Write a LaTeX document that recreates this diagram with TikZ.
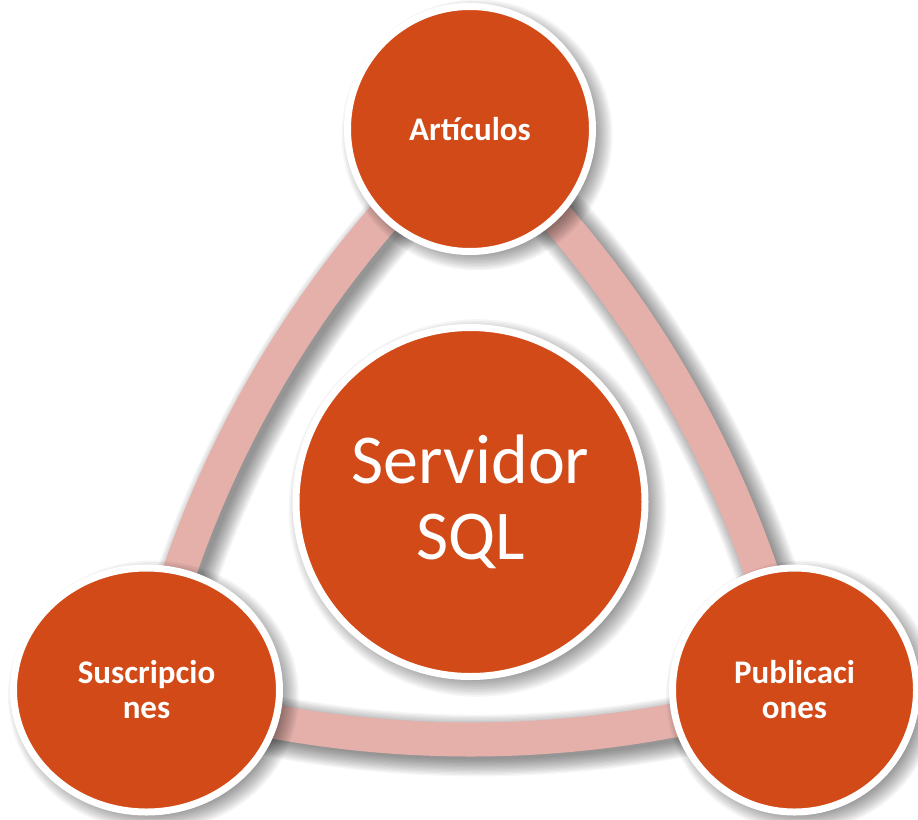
\documentclass[tikz,border=0pt]{standalone}
\usepackage{fontspec}
\setmainfont{Carlito}
\usetikzlibrary{shapes.geometric}
\definecolor{nodeorange}{RGB}{210,74,24}
\definecolor{bandpink}{RGB}{229,176,170}
\pgfdeclarelayer{bg}
\pgfdeclarelayer{bshadow}
\pgfdeclarelayer{bands}
\pgfdeclarelayer{cshadow}
\pgfsetlayers{bg,bshadow,bands,cshadow,main}
\begin{document}
\begin{tikzpicture}[x=1pt,y=-1pt,
  bubble/.style={circle, fill=nodeorange, draw=white, line width=7pt, inner sep=0pt, text=white, align=center},
  smalltext/.style={font=\fontsize{33}{35}\selectfont\bfseries},
  bigtext/.style={font=\fontsize{70}{76}\selectfont},
  band/.style={draw=bandpink, line width=34pt},
  softshade/.style={black, opacity=0.035},
]
\begin{pgfonlayer}{bg}
\fill[white] (0,0) rectangle (918,819);
\end{pgfonlayer}
\useasboundingbox (0,0) rectangle (918,819);

% nodes
\node[bubble, smalltext, minimum size=245pt] (art) at (470,129) {Artículos};
\node[bubble, bigtext, minimum size=349pt] (srv) at (470.5,502) {Servidor\\SQL};
\node[bubble, smalltext, ellipse, minimum width=266pt, minimum height=244pt] (sus) at (146.5,690) {Suscripcio\\nes};
\node[bubble, smalltext, minimum size=244pt] (pub) at (794.5,690) {Publicaci\\ones};

% band shadows
\begin{pgfonlayer}{bshadow}
\foreach \k in {0,...,13} {
  \draw[softshade, line width={(28+2.6*\k)*1pt}]
    ([shift={(7,6)}]art.center) .. controls +(-163,148) and +(47,-215) .. ([shift={(7,6)}]sus.center);
  \draw[softshade, line width={(28+2.6*\k)*1pt}]
    ([shift={(7,6)}]art.center) .. controls +(163,148) and +(-47,-215) .. ([shift={(7,6)}]pub.center);
  \draw[softshade, line width={(28+2.6*\k)*1pt}]
    ([shift={(7,6)}]sus.center) .. controls +(210,66) and +(-210,66) .. ([shift={(7,6)}]pub.center);
}
\end{pgfonlayer}

% bands
\begin{pgfonlayer}{bands}
\draw[band] (art.center) .. controls +(-163,148) and +(47,-215) .. (sus.center);
\draw[band] (art.center) .. controls +(163,148) and +(-47,-215) .. (pub.center);
\draw[band] (sus.center) .. controls +(210,66) and +(-210,66) .. (pub.center);
\end{pgfonlayer}

% circle shadows
\begin{pgfonlayer}{cshadow}
\foreach \k in {0,...,13} {
  \fill[softshade] ([shift={(7,6)}]art.center) circle[radius={116+1.5*\k}];
  \fill[softshade] ([shift={(7,6)}]srv.center) circle[radius={168+1.6*\k}];
  \fill[softshade] ([shift={(7,6)}]sus.center) ellipse[x radius={126+1.5*\k}, y radius={116+1.5*\k}];
  \fill[softshade] ([shift={(7,6)}]pub.center) circle[radius={116+1.5*\k}];
}
\end{pgfonlayer}
\end{tikzpicture}
\end{document}
